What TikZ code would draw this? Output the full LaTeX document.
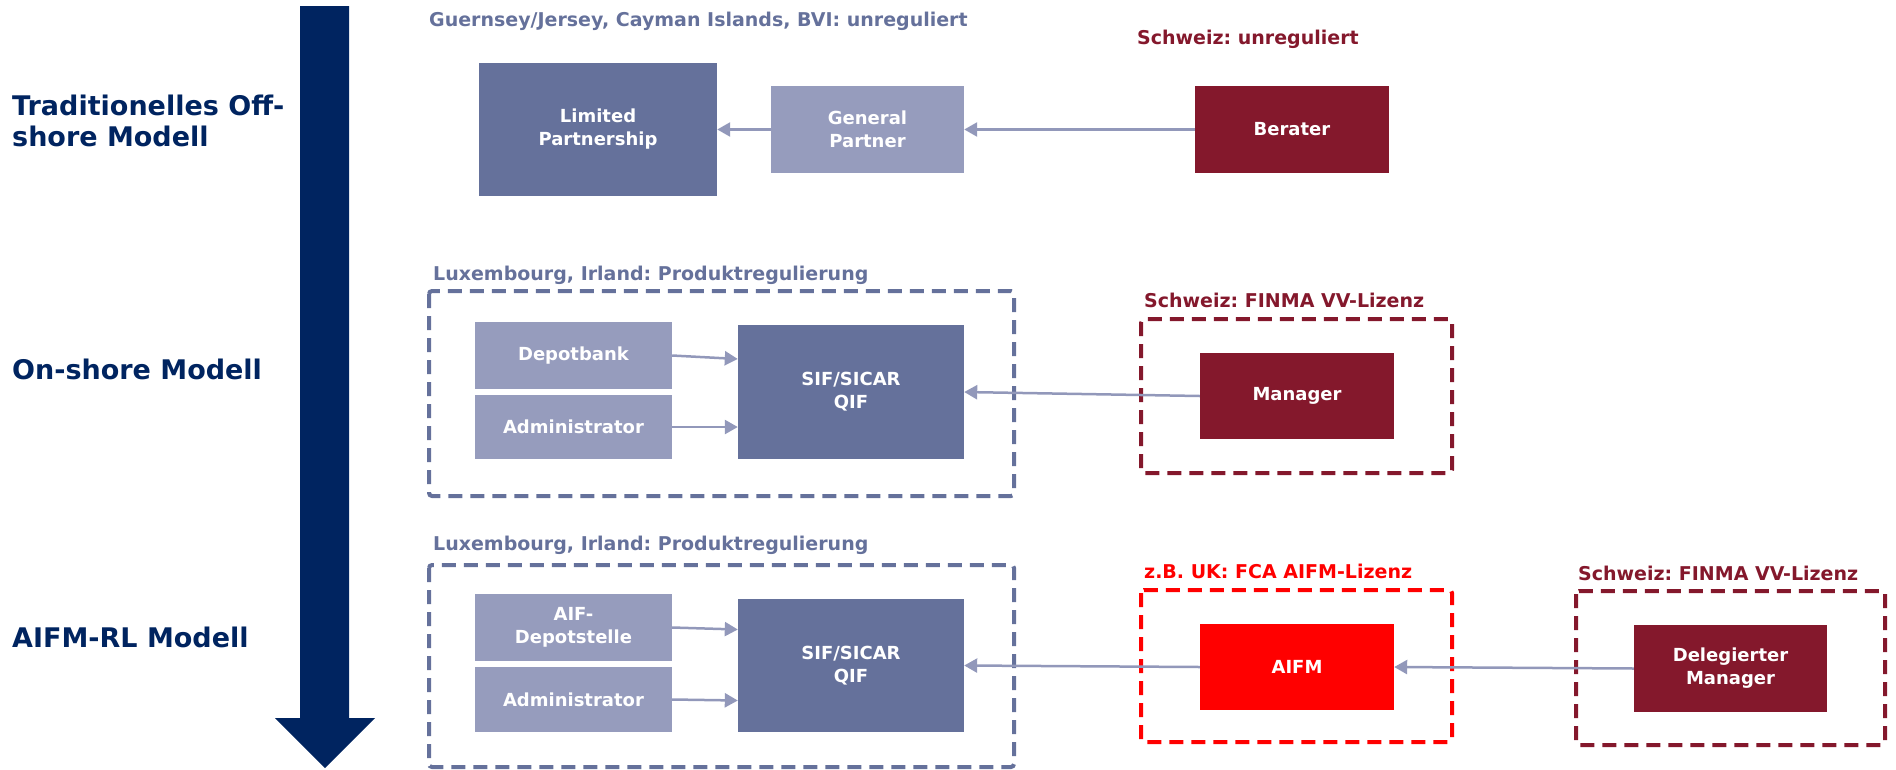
\documentclass[tikz,border=0pt]{standalone}
\usepackage{fontspec}
\setmainfont{DejaVu Sans}
\usetikzlibrary{arrows.meta}

\definecolor{navy}{RGB}{0,36,96}
\definecolor{slatedark}{RGB}{101,113,155}
\definecolor{slatelight}{RGB}{150,156,189}
\definecolor{wine}{RGB}{132,24,44}
\definecolor{signal}{RGB}{255,0,0}
\definecolor{linkgray}{RGB}{146,152,186}

\begin{document}
\frenchspacing
\begin{tikzpicture}[
      x=1pt, y=-1pt,
      box/.style={inner sep=0pt, text=white, align=center, font=\fontsize{18}{23}\selectfont\bfseries},
      darkbox/.style={box, fill=slatedark},
      lightbox/.style={box, fill=slatelight},
      winebox/.style={box, fill=wine},
      redbox/.style={box, fill=signal},
      link/.style={draw=linkgray, line width=2.5pt, -{Triangle[length=13pt, width=14pt]}},
      zone/.style={dash pattern=on 14pt off 8pt, line width=4pt, rounded corners=3pt},
      region/.style={anchor=west, inner sep=0pt, font=\fontsize{19}{23}\selectfont\bfseries},
      model/.style={anchor=west, inner sep=0pt, align=left, text=navy, font=\fontsize{27}{31}\selectfont\bfseries}
    ]
    \useasboundingbox (0,0) rectangle (1896,769);

    \fill[navy] (300,6) -- (349,6) -- (349,718) -- (375,718) -- (325,768) -- (275,718) -- (300,718) -- cycle;

    \node[model] (m1) at (12,121) {Traditionelles Off-\\shore Modell};
    \node[model] (m2) at (12,369) {On-shore Modell};
    \node[model] (m3) at (12,637) {AIFM-RL Modell};

    % offshore
    \node[region, text=slatedark] (r1) at (429,21) {Guernsey/Jersey, Cayman Islands, BVI: unreguliert};
    \node[region, text=wine] (r2) at (1137,39) {Schweiz: unreguliert};
    \node[darkbox, minimum width=238pt, minimum height=133pt] (lp) at (598,129.5) {Limited\\Partnership};
    \node[lightbox, minimum width=193pt, minimum height=87pt] (gp) at (867.5,129.5) {General\\Partner};
    \node[winebox, minimum width=194pt, minimum height=87pt] (berater) at (1292,129.5) {Berater};
    \draw[link] (gp) -- (lp);
    \draw[link] (berater) -- (gp);

    % onshore
    \node[region, text=slatedark] (r3) at (433,275) {Luxembourg, Irland: Produktregulierung};
    \draw[zone, draw=slatedark] (429,291) rectangle (1014,496);
    \node[region, text=wine] (r4) at (1144,300) {Schweiz: FINMA VV-Lizenz};
    \draw[zone, draw=wine] (1141,319) rectangle (1452,473);
    \node[lightbox, minimum width=197pt, minimum height=67pt] (depot) at (573.5,355.5) {Depotbank};
    \node[lightbox, minimum width=197pt, minimum height=64pt] (admin) at (573.5,427) {Administrator};
    \node[darkbox, minimum width=226pt, minimum height=134pt] (sif) at (851,392) {SIF/SICAR\\QIF};
    \node[winebox, minimum width=194pt, minimum height=86pt] (manager) at (1297,396) {Manager};
    \draw[link] (depot.east) -- ([yshift=33pt]sif.west);
    \draw[link] (admin.east) -- ([yshift=-35pt]sif.west);
    \draw[link] (manager.west) -- (sif.east);

    % AIFM-RL
    \node[region, text=slatedark] (r5) at (433,545) {Luxembourg, Irland: Produktregulierung};
    \draw[zone, draw=slatedark] (429,565) rectangle (1014,767);
    \node[region, text=signal] (r6) at (1144,571) {z.B. UK: FCA AIFM-Lizenz};
    \draw[zone, draw=signal] (1141,590) rectangle (1452,742);
    \node[region, text=wine] (r7) at (1578,573) {Schweiz: FINMA VV-Lizenz};
    \draw[zone, draw=wine] (1576,591) rectangle (1885,745);
    \node[lightbox, minimum width=197pt, minimum height=67pt] (aifdepot) at (573.5,627.5) {AIF-\\Depotstelle};
    \node[lightbox, minimum width=197pt, minimum height=65pt] (admin2) at (573.5,699.5) {Administrator};
    \node[darkbox, minimum width=226pt, minimum height=133pt] (sif2) at (851,665.5) {SIF/SICAR\\QIF};
    \node[redbox, minimum width=194pt, minimum height=86pt] (aifm) at (1297,667) {AIFM};
    \node[winebox, minimum width=193pt, minimum height=87pt] (delegiert) at (1730.5,668.5) {Delegierter\\Manager};
    \draw[link] (aifdepot.east) -- ([yshift=36pt]sif2.west);
    \draw[link] (admin2.east) -- ([yshift=-35pt]sif2.west);
    \draw[link] (aifm.west) -- (sif2.east);
    \draw[link] (delegiert.west) -- (aifm.east);
  \end{tikzpicture}
\end{document}
